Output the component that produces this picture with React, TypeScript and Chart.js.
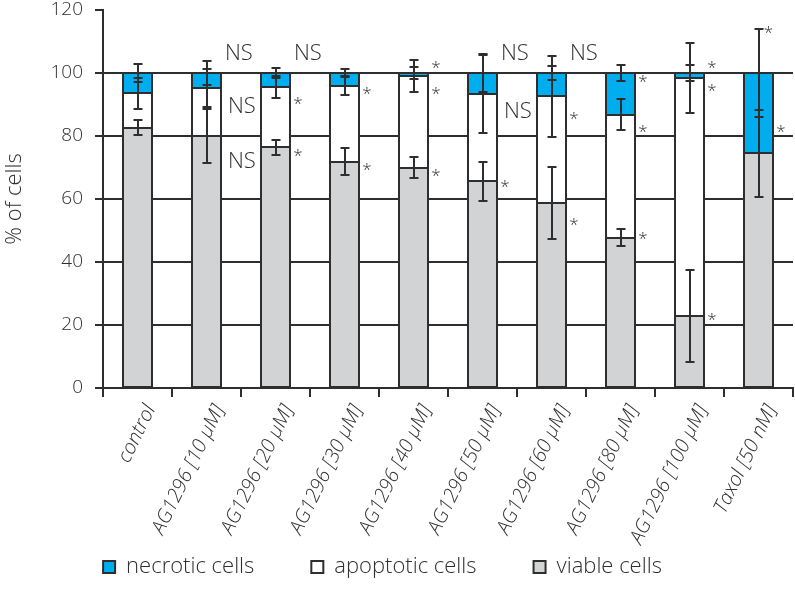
import React, { useEffect, useRef } from 'react';
import { Chart, registerables } from 'chart.js';

Chart.register(...registerables);

const FONT = '"Open Sans", "DejaVu Sans", sans-serif';
const INK = '#2e2e2e';

const categories = [
  'control',
  'AG1296 [10 μM]',
  'AG1296 [20 μM]',
  'AG1296 [30 μM]',
  'AG1296 [40 μM]',
  'AG1296 [50 μM]',
  'AG1296 [60 μM]',
  'AG1296 [80 μM]',
  'AG1296 [100 μM]',
  'Taxol [50 nM]',
];

const yTicks = [0, 20, 40, 60, 80, 100, 120];

// stacked segments (bottom to top)
const viable = [82.6, 80.0, 76.4, 71.9, 70.0, 65.6, 58.8, 47.7, 22.8, 74.5];
const apoptotic = [10.9, 15.2, 19.1, 24.0, 29.0, 27.7, 33.8, 39.1, 75.6, 0];
const necrotic = [6.5, 4.8, 4.5, 4.1, 1.0, 6.7, 7.4, 13.2, 1.6, 25.5];

// error bars, drawn at each segment's cumulative top
const viableErr = [2.4, 8.5, 2.4, 4.3, 3.4, 6.2, 11.4, 2.7, 14.7, 13.9];
const apoptoticErr = [5.0, 6.0, 3.5, 3.0, 5.0, 12.3, 12.8, 5.0, 11.2, 0];
const necroticErr = [2.8, 3.8, 1.5, 1.2, 2.0, 6.0, 2.1, 2.5, 2.6, 14.0];

// significance marks and the value level they sit at
const viableMarks = ['', 'NS', '*', '*', '*', '*', '*', '*', '*', '*'];
const viableMarkY = [0, 72.2, 74.9, 70.6, 68.6, 65.1, 53.1, 48.8, 23.0, 82.5];
const apoptoticMarks = ['', 'NS', '*', '*', '*', 'NS', '*', '*', '*', ''];
const apoptoticMarkY = [0, 89.9, 91.5, 94.7, 94.7, 88.3, 86.8, 82.7, 95.6, 0];
const necroticMarks = ['', 'NS', 'NS', '', '*', 'NS', 'NS', '*', '*', '*'];
const necroticMarkY = [0, 106.6, 106.6, 0, 103.0, 106.6, 106.6, 98.6, 103.0, 114.1];
const necroticMarkAtCap = [false, false, false, false, false, false, false, false, false, true];

// crisp outlines around every stacked segment, using the bar elements' own geometry
const outlinePlugin = {
  id: 'barOutlines',
  afterDatasetsDraw(chart: any) {
    const ctx = chart.ctx;
    ctx.save();
    ctx.strokeStyle = INK;
    ctx.lineWidth = 2;
    chart.data.datasets.forEach((_: any, i: number) => {
      const meta = chart.getDatasetMeta(i);
      meta.data.forEach((el: any) => {
        const { x, y, base, width } = el.getProps(['x', 'y', 'base', 'width'], true);
        const l = Math.round(x - width / 2);
        const r = Math.round(x + width / 2);
        const t = Math.round(Math.min(y, base));
        const b = Math.round(Math.max(y, base));
        ctx.strokeRect(l, t, r - l, b - t);
      });
    });
    ctx.restore();
  },
};

const errorBarPlugin = {
  id: 'errorBars',
  afterDatasetsDraw(chart: any) {
    const ctx = chart.ctx;
    const ys = chart.scales.y;
    const vals = [viable, apoptotic, necrotic];
    const errs = [viableErr, apoptoticErr, necroticErr];
    const meta = chart.getDatasetMeta(0);
    ctx.save();
    ctx.strokeStyle = INK;
    ctx.lineWidth = 2;
    categories.forEach((_, j) => {
      const el = meta.data[j];
      if (!el) return;
      const x = Math.round(el.x);
      let cum = 0;
      for (let i = 0; i < 3; i++) {
        cum += vals[i][j];
        const e = errs[i][j];
        if (!e) continue;
        const yt = Math.round(ys.getPixelForValue(cum + e));
        const yb = Math.round(ys.getPixelForValue(cum - e));
        ctx.beginPath();
        ctx.moveTo(x, yt);
        ctx.lineTo(x, yb);
        ctx.moveTo(x - 4.5, yt);
        ctx.lineTo(x + 4.5, yt);
        ctx.moveTo(x - 4.5, yb);
        ctx.lineTo(x + 4.5, yb);
        ctx.stroke();
      }
    });
    ctx.restore();
  },
};

const marksPlugin = {
  id: 'sigMarks',
  afterDatasetsDraw(chart: any) {
    const ctx = chart.ctx;
    const ys = chart.scales.y;
    const meta = chart.getDatasetMeta(0);
    const rows = [
      { marks: viableMarks, y: viableMarkY, top: false },
      { marks: apoptoticMarks, y: apoptoticMarkY, top: false },
      { marks: necroticMarks, y: necroticMarkY, top: true },
    ];
    ctx.save();
    ctx.fillStyle = INK;
    ctx.textBaseline = 'alphabetic';
    rows.forEach((row) => {
      row.marks.forEach((t, j) => {
        if (!t) return;
        const el = meta.data[j];
        if (!el) return;
        const right = el.x + el.width / 2;
        const py = ys.getPixelForValue(row.y[j]);
        if (t === 'NS') {
          const size = 22;
          ctx.font = `300 ${size}px ${FONT}`;
          ctx.textAlign = 'left';
          ctx.fillText(t, right + (row.top ? 4 : 7), py + 0.357 * size);
        } else {
          const size = 17;
          ctx.font = `300 ${size}px ${FONT}`;
          ctx.textAlign = 'center';
          const x = row.top && necroticMarkAtCap[j] ? el.x + 10 : right + 8;
          ctx.fillText(t, x, py + 0.55 * size);
        }
      });
    });
    ctx.restore();
  },
};

const LEGEND_BOX_HEIGHT = 55;

const legendPlacePlugin = {
  id: 'legendPlace',
  afterInit(chart: any) {
    const lg = chart.legend;
    if (!lg) return;
    const orig = lg.fit.bind(lg);
    lg.fit = function () {
      orig();
      this.height = LEGEND_BOX_HEIGHT;
    };
  },
  afterLayout(chart: any) {
    const lg = chart.legend;
    if (!lg) return;
    const pad = lg.options.labels.padding;
    const targetCenter = 567;
    const itemH = 22;
    const newTop = targetCenter - itemH / 2 - pad;
    lg.top = newTop;
    lg.bottom = chart.height;
    lg.height = chart.height - newTop;
    lg.left -= 14;
    lg.right -= 14;
  },
};

export default function App() {
  const canvasRef = useRef<HTMLCanvasElement | null>(null);

  useEffect(() => {
    if (!canvasRef.current) return;
    const barStyle = {
      borderColor: INK,
      borderWidth: 0,
      inflateAmount: 0,
    };
    const chart = new Chart(canvasRef.current, {
      type: 'bar',
      data: {
        labels: categories,
        datasets: [
          { label: 'viable cells', data: viable, backgroundColor: '#D1D3D4', ...barStyle },
          { label: 'apoptotic cells', data: apoptotic, backgroundColor: '#FFFFFF', ...barStyle },
          { label: 'necrotic cells', data: necrotic, backgroundColor: '#00AEEF', ...barStyle },
        ],
      },
      options: {
        responsive: true,
        maintainAspectRatio: false,
        animation: false,
        layout: { padding: { left: 0, right: 2, top: 0, bottom: 0 } },
        datasets: {
          bar: { categoryPercentage: 1, barPercentage: 0.4203 },
        },
        plugins: {
          tooltip: { enabled: false },
          legend: {
            position: 'bottom',
            reverse: true,
            labels: {
              boxWidth: 12,
              boxHeight: 12,
              padding: 57,
              color: INK,
              font: { family: FONT, size: 22, weight: 300 },
              generateLabels: (chart: any) =>
                chart.data.datasets.map((ds: any, i: number) => ({
                  text: ds.label,
                  fillStyle: ds.backgroundColor,
                  strokeStyle: INK,
                  lineWidth: 2,
                  hidden: false,
                  datasetIndex: i,
                  fontColor: INK,
                })),
            },
          },
        },
        scales: {
          x: {
            stacked: true,
            offset: true,
            grid: {
              display: true,
              offset: true,
              drawOnChartArea: false,
              drawTicks: true,
              tickLength: 9,
              color: INK,
              tickColor: INK,
              lineWidth: 2,
            },
            border: { display: true, color: INK, width: 2 },
            ticks: {
              autoSkip: false,
              minRotation: 64,
              maxRotation: 64,
              padding: 4,
              labelOffset: 13,
              color: INK,
              font: { family: FONT, size: 20, style: 'italic', weight: 300 },
            },
            afterFit: (s: any) => {
              s.height = 165;
            },
          },
          y: {
            stacked: true,
            min: 0,
            max: 120,
            afterBuildTicks: (s: any) => {
              s.ticks = yTicks.map((v) => ({ value: v }));
            },
            ticks: {
              padding: 12,
              color: INK,
              font: { family: FONT, size: 19, weight: 300, lineHeight: 1 },
            },
            grid: {
              color: (c: any) => (c.tick && c.tick.value === 120 ? 'rgba(0,0,0,0)' : INK),
              tickColor: INK,
              lineWidth: 2,
              tickLength: 8,
            },
            border: { display: true, color: INK, width: 2 },
            title: {
              display: true,
              text: '% of cells',
              color: INK,
              padding: { top: 2, bottom: 0 },
              font: { family: FONT, size: 22, weight: 300 },
            },
            afterFit: (s: any) => {
              s.width = 103;
              s.paddingTop = 10;
              s.paddingBottom = 0;
            },
          },
        },
      },
      plugins: [outlinePlugin, errorBarPlugin, marksPlugin, legendPlacePlugin],
    });
    return () => chart.destroy();
  }, []);

  return (
    <div style={{ position: 'fixed', left: 0, top: 0, width: 795, height: 608, background: '#fff' }}>
      <canvas ref={canvasRef} />
    </div>
  );
}
